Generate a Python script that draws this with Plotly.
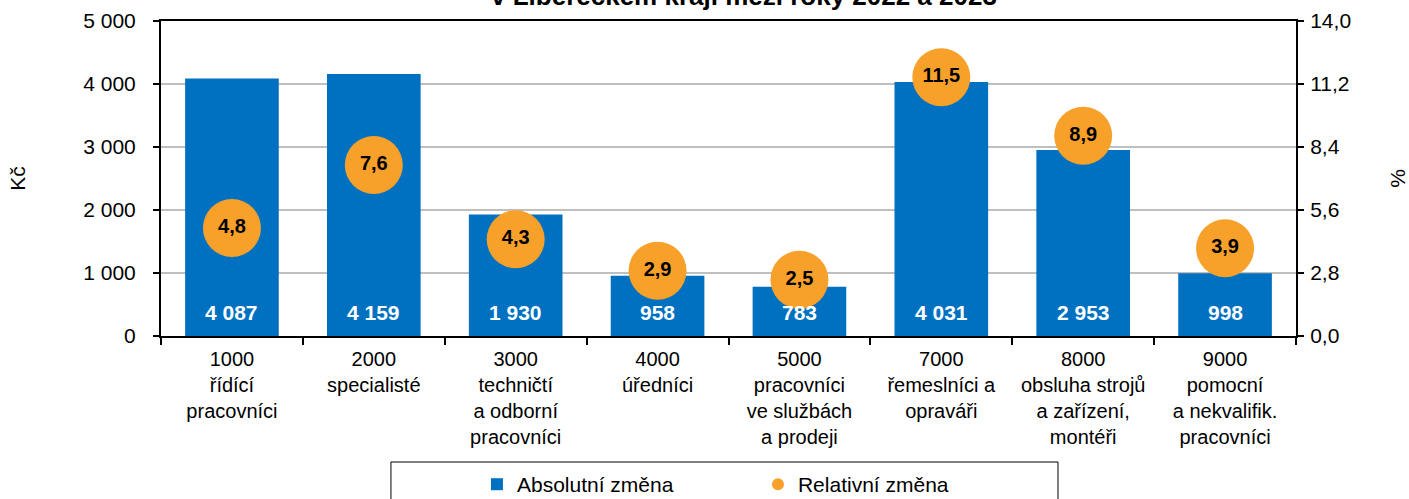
import plotly.graph_objects as go

categories = [
    "1000<br>řídící<br>pracovníci",
    "2000<br>specialisté",
    "3000<br>techničtí<br>a odborní<br>pracovníci",
    "4000<br>úředníci",
    "5000<br>pracovníci<br>ve službách<br>a prodeji",
    "7000<br>řemeslníci a<br>opraváři",
    "8000<br>obsluha strojů<br>a zařízení,<br>montéři",
    "9000<br>pomocní<br>a nekvalifik.<br>pracovníci",
]
abs_change = [4087, 4159, 1930, 958, 783, 4031, 2953, 998]
rel_change = [4.8, 7.6, 4.3, 2.9, 2.5, 11.5, 8.9, 3.9]
left_ticks = [0, 1000, 2000, 3000, 4000, 5000]
right_ticks = [0.0, 2.8, 5.6, 8.4, 11.2, 14.0]
title_text = "v Libereckém kraji mezi roky 2022 a 2023"

FONT = "Liberation Sans, Arial, sans-serif"
FS = 21
BLUE = "#0070C0"
ORANGE = "#F7A12A"

def fmt_space(v):
    return f"{v:,}".replace(",", " ")

fig = go.Figure()
fig.add_trace(go.Bar(
    x=categories, y=abs_change, name="Absolutní změna",
    marker=dict(color=BLUE, line=dict(width=0)), width=0.66,
    yaxis="y",
))
fig.add_trace(go.Scatter(
    x=categories, y=rel_change, name="Relativní změna",
    mode="markers+text",
    marker=dict(color=ORANGE, size=58, line=dict(width=0)),
    text=[f"{v:.1f}".replace(".", ",") for v in rel_change],
    textposition="middle center",
    textfont=dict(family=FONT, size=20, color="black", weight="bold"),
    yaxis="y2",
))

# bar value labels at the bar base
for c, v in zip(categories, abs_change):
    fig.add_annotation(
        x=c, y=0, xref="x", yref="y", text=fmt_space(v),
        showarrow=False, yanchor="bottom", yshift=10,
        font=dict(family=FONT, size=FS, color="white", weight="bold"),
    )

fig.add_annotation(
    x=0.5137, y=1, xref="paper", yref="paper", text=f"<b>{title_text}</b>",
    showarrow=False, yanchor="bottom", xanchor="center", yshift=8,
    font=dict(family=FONT, size=26, color="black"),
)

# legend frame
fig.add_shape(type="rect", xref="paper", yref="paper",
              x0=0.2026, x1=0.7903, y0=-0.40, y1=-0.65,
              line=dict(color="black", width=1), fillcolor="rgba(0,0,0,0)")

fig.update_layout(
    width=1409, height=499,
    margin=dict(l=161, r=113, t=21, b=163, autoexpand=False),
    paper_bgcolor="white", plot_bgcolor="white",
    font=dict(family=FONT, size=FS, color="black"),
    separators=", ",
    bargap=0.34,
    showlegend=True,
    legend=dict(orientation="h", xref="container", yref="container",
                x=0.3385, xanchor="left", y=0.07, yanchor="top",
                font=dict(family=FONT, size=FS), entrywidth=236, entrywidthmode="pixels",
                itemsizing="constant", bgcolor="rgba(0,0,0,0)", traceorder="normal"),
    xaxis=dict(
        range=[-0.5, len(categories) - 0.5],
        showline=True, linecolor="black", linewidth=2, mirror=True,
        ticks="outside", ticklen=7, tickwidth=2, tickcolor="black",
        tickson="boundaries", showgrid=False, automargin=False,
        ticklabelstandoff=4,
        tickfont=dict(family=FONT, size=20),
    ),
    yaxis=dict(
        range=[0, 5000], tickvals=left_ticks,
        ticktext=[fmt_space(v) for v in left_ticks],
        showline=True, linecolor="black", linewidth=2,
        ticks="outside", ticklen=6, tickwidth=2, tickcolor="black",
        showgrid=True, gridcolor="#BFBFBF", gridwidth=1.5,
        zeroline=False, automargin=False, ticklabelstandoff=13,
        title=dict(text="Kč", standoff=52, font=dict(family=FONT, size=FS)),
        tickfont=dict(family=FONT, size=FS),
    ),
    yaxis2=dict(
        range=[0, 14], tickvals=right_ticks,
        ticktext=[f"{v:.1f}".replace(".", ",") for v in right_ticks],
        overlaying="y", side="right",
        showline=True, linecolor="black", linewidth=2,
        ticks="outside", ticklen=6, tickwidth=2, tickcolor="black",
        showgrid=False, zeroline=False, automargin=False, ticklabelstandoff=2,
        title=dict(text="%", standoff=40, font=dict(family=FONT, size=FS)),
        tickfont=dict(family=FONT, size=FS),
    ),
)

fig.write_html("out.html", config={"displayModeBar": False},
               post_script="document.body.style.margin='0';")
